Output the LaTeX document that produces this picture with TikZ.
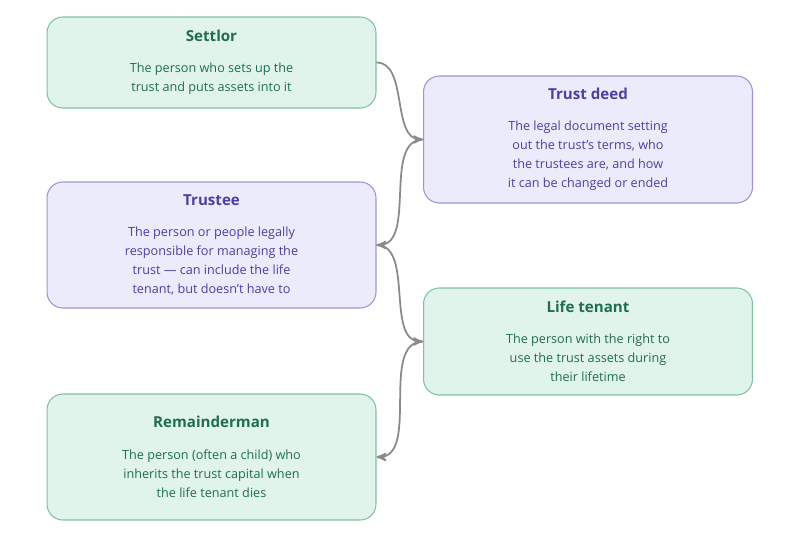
\documentclass[tikz,border=0pt]{standalone}
\usepackage{fontspec}
\setmainfont{Open Sans}
\usetikzlibrary{arrows}
\definecolor{greenfill}{HTML}{E1F4EC}
\definecolor{greendraw}{HTML}{7FC2A0}
\definecolor{greentext}{HTML}{1F6E4E}
\definecolor{purplefill}{HTML}{ECEBFC}
\definecolor{purpledraw}{HTML}{9B95D8}
\definecolor{purpletext}{HTML}{4B40A3}
\definecolor{linkgray}{HTML}{8A8A8A}
\begin{document}
\begin{tikzpicture}[x=0.02cm,y=-0.02cm,>=stealth',
        box/.style={rectangle,rounded corners=9pt,minimum width=6.58cm,align=center,
          font=\fontsize{7.2}{10.8}\selectfont,line width=0.6pt},
        greenbox/.style={box,fill=greenfill,draw=greendraw,text=greentext},
        purplebox/.style={box,fill=purplefill,draw=purpledraw,text=purpletext},
        title/.style={font=\fontsize{8.6}{10.8}\selectfont\bfseries},
        link/.style={->,draw=linkgray,line width=1pt,looseness=0.9}]

        \useasboundingbox (0,0) rectangle (800,533);

        \node [greenbox,minimum height=1.82cm]  (settlor) at (211.5,62.5)
          {{\fontsize{8.6}{10.8}\selectfont\bfseries Settlor}\\[0.25cm]The person who sets up the\\trust and puts assets into it};
        \node [purplebox,minimum height=2.54cm] (deed) at (588,139.5)
          {{\fontsize{8.6}{10.8}\selectfont\bfseries Trust deed}\\[0.25cm]The legal document setting\\out the trust's terms, who\\the trustees are, and how\\it can be changed or ended};
        \node [purplebox,minimum height=2.52cm] (trustee) at (211.5,245)
          {{\fontsize{8.6}{10.8}\selectfont\bfseries Trustee}\\[0.25cm]The person or people legally\\responsible for managing the\\trust --- can include the life\\tenant, but doesn't have to};
        \node [greenbox,minimum height=2.14cm]  (tenant) at (588,341.5)
          {{\fontsize{8.6}{10.8}\selectfont\bfseries Life tenant}\\[0.25cm]The person with the right to\\use the trust assets during\\their lifetime};
        \node [greenbox,minimum height=2.52cm]  (remainder) at (211.5,457)
          {{\fontsize{8.6}{10.8}\selectfont\bfseries Remainderman}\\[0.25cm]The person (often a child) who\\inherits the trust capital when\\the life tenant dies};

        \draw [link] (settlor.east) to[out=0,in=180] (deed.west);
        \draw [link] (deed.west) to[out=180,in=0] (trustee.east);
        \draw [link] (trustee.east) to[out=0,in=180] (tenant.west);
        \draw [link] (tenant.west) to[out=180,in=0] (remainder.east);
\end{tikzpicture}
\end{document}
